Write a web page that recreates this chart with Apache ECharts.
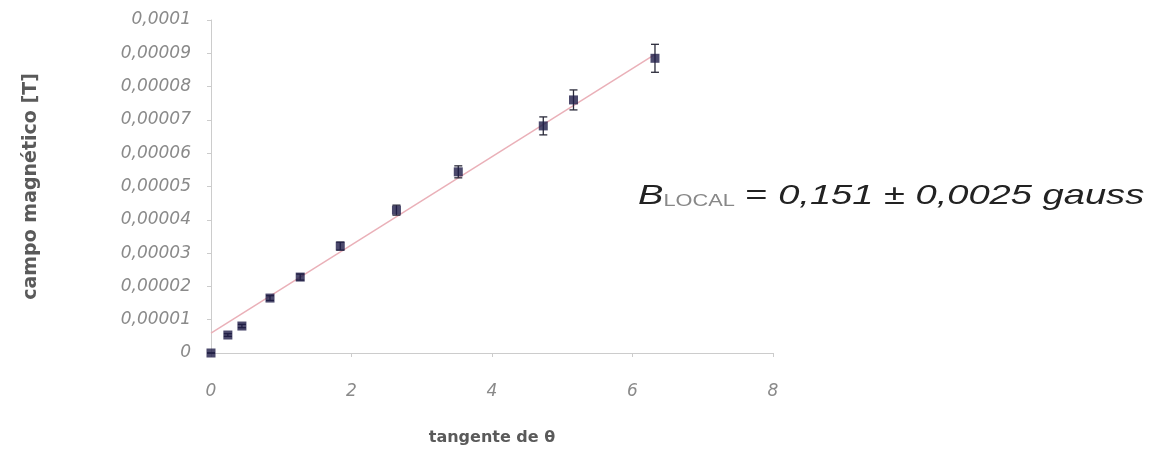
<!DOCTYPE html>
<html><head><meta charset="utf-8">
<script src="https://cdn.jsdelivr.net/npm/echarts@6/dist/echarts.min.js"></script>
<style>html,body{margin:0;padding:0;background:#fff}#c{width:1156px;height:451px}</style>
</head><body><div id="c"></div>
<script>
const tanTheta = [0, 0.24, 0.44, 0.84, 1.27, 1.84, 2.64, 3.52, 4.73, 5.16, 6.32];
const campoB   = [0, 0.0000054, 0.0000081, 0.0000165, 0.0000228, 0.0000321, 0.0000429, 0.0000544, 0.0000682, 0.0000760, 0.0000885];
const erroB    = [0, 0.0000004, 0.0000005, 0.0000007, 0.0000009, 0.0000012, 0.0000015, 0.0000018, 0.0000027, 0.0000030, 0.0000042];
const fitX = [0, 6.32];
const fitY = [0.0000060, 0.0000897];
const xTicks = [0, 2, 4, 6, 8];
const yMax = 0.0001;

const chart = echarts.init(document.getElementById('c'));
const pts = tanTheta.map((x,i)=>[x, campoB[i]]);
const errs = tanTheta.map((x,i)=>[x, campoB[i]-erroB[i], campoB[i]+erroB[i]]);
chart.setOption({
  animation:false,
  grid:{left:211,right:383,top:20,bottom:98},
  xAxis:{type:'value',min:0,max:8,interval:2,
    name:'tangente de θ',nameLocation:'middle',nameGap:77,
    nameTextStyle:{fontFamily:'DejaVu Sans',fontSize:16,fontWeight:'bold',color:'#5a5a5a'},
    axisLine:{lineStyle:{color:'#ccc',width:1}},
    axisTick:{show:true,inside:false,length:4,lineStyle:{color:'#ccc'}},
    axisLabel:{margin:30,fontFamily:'DejaVu Sans',fontSize:17,fontStyle:'italic',color:'#8a8a8a',
      formatter:v=>xTicks.includes(v)?String(v):''},
    splitLine:{show:false}},
  yAxis:{type:'value',min:0,max:yMax,interval:0.00001,
    name:'campo magnético [T]',nameLocation:'middle',nameGap:170,nameRotate:90,
    nameTextStyle:{fontFamily:'DejaVu Sans',fontSize:19,fontWeight:'bold',color:'#5a5a5a'},
    axisLine:{show:true,lineStyle:{color:'#ccc',width:1}},
    axisTick:{show:true,length:4,lineStyle:{color:'#ccc'}},
    axisLabel:{margin:20,fontFamily:'DejaVu Sans',fontSize:17,fontStyle:'italic',color:'#8a8a8a',
      formatter:v=>v===0?'0':v.toFixed(5).replace(/0+$/,'').replace('.',',')},
    splitLine:{show:false}},
  series:[
    {type:'line',data:fitX.map((x,i)=>[x,fitY[i]]),symbol:'none',
      lineStyle:{color:'#eab0b8',width:1.5},z:1},
    {type:'custom',data:errs,z:3,
      renderItem:(params,api)=>{
        const lo=api.coord([api.value(0),api.value(1)]);
        const hi=api.coord([api.value(0),api.value(2)]);
        const w=4;
        const st={stroke:'#2a2a3a',lineWidth:1.3};
        return {type:'group',children:[
          {type:'line',shape:{x1:lo[0],y1:lo[1],x2:hi[0],y2:hi[1]},style:st},
          {type:'line',shape:{x1:lo[0]-w,y1:lo[1],x2:lo[0]+w,y2:lo[1]},style:st},
          {type:'line',shape:{x1:hi[0]-w,y1:hi[1],x2:hi[0]+w,y2:hi[1]},style:st}]};
      },encode:{x:0,y:[1,2]}},
    {type:'scatter',data:pts,symbol:'rect',symbolSize:9,
      itemStyle:{color:'#1e1b47'},z:4}
  ],
  graphic:[{type:'text',x:638,y:182,scaleX:1.36,
    style:{rich:{
      b:{fontFamily:'Liberation Sans',fontSize:28,fontStyle:'italic',fill:'#222'},
      s:{fontFamily:'Liberation Sans',fontSize:16,fill:'#888',padding:[12,0,0,0]},
      t:{fontFamily:'Liberation Sans',fontSize:28,fill:'#222'},
      i:{fontFamily:'Liberation Sans',fontSize:28,fontStyle:'italic',fill:'#222'}},
      text:'{b|B}{s|LOCAL}{t| = }{i|0,151 ± 0,0025 gauss}'}}]
});
</script></body></html>
